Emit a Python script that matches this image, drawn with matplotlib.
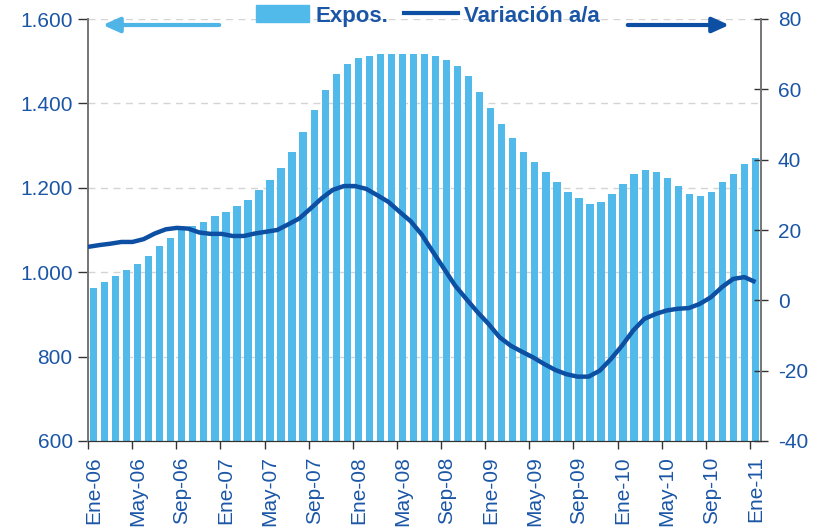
import numpy as np
import matplotlib.pyplot as plt
from matplotlib.patches import Patch
from matplotlib.lines import Line2D
from matplotlib.ticker import FuncFormatter

plt.rcParams['font.family'] = ['Liberation Sans', 'DejaVu Sans']
plt.rcParams['axes.unicode_minus'] = False

# monthly data, Ene-06 .. Ene-11
expos = [963, 977, 991, 1005, 1019, 1038, 1062, 1081, 1100, 1109, 1119, 1133,
         1143, 1157, 1171, 1195, 1218, 1247, 1285, 1332, 1384, 1432, 1470, 1493,
         1508, 1512, 1517, 1517, 1517, 1517, 1517, 1512, 1503, 1489, 1465, 1427,
         1389, 1351, 1318, 1285, 1261, 1237, 1214, 1190, 1176, 1162, 1166, 1185,
         1209, 1233, 1242, 1237, 1223, 1204, 1185, 1181, 1190, 1214, 1233, 1256,
         1271]
variacion = [15.2, 15.7, 16.1, 16.6, 16.6, 17.4, 19.0, 20.2, 20.6, 20.4, 19.3, 18.9,
             18.9, 18.3, 18.3, 19.0, 19.5, 20.0, 21.6, 23.3, 26.1, 29.0, 31.4, 32.5,
             32.5, 31.7, 29.9, 28.0, 25.2, 22.5, 18.7, 13.8, 9.0, 4.2, 0.4, -3.3,
             -6.7, -10.5, -12.9, -14.6, -16.2, -18.1, -19.8, -21.0, -21.7, -21.7, -20.0, -16.7,
             -12.9, -8.6, -5.3, -3.9, -2.9, -2.4, -2.2, -1.0, 0.9, 3.8, 6.1, 6.6,
             5.2]
x_labels = ['Ene-06', 'May-06', 'Sep-06', 'Ene-07', 'May-07', 'Sep-07', 'Ene-08',
            'May-08', 'Sep-08', 'Ene-09', 'May-09', 'Sep-09', 'Ene-10', 'May-10',
            'Sep-10', 'Ene-11']

bar_color = '#52BAEA'
line_color = '#0D4FA2'
text_color = '#1B56A6'
axis_color = '#777777'

fig = plt.figure(figsize=(8.24, 5.27), dpi=100)
ax = fig.add_axes([88 / 824, 86 / 527, 673 / 824, 422 / 527])
ax2 = ax.twinx()

n = len(expos)
x = np.arange(n)
ax.bar(x, expos, width=0.66, color=bar_color, zorder=2)
ax.set_ylim(600, 1600)
ax.set_xlim(-0.5, n - 0.5)
ax.set_yticks([600, 800, 1000, 1200, 1400, 1600])
ax.yaxis.set_major_formatter(FuncFormatter(lambda v, p: f'{int(v):,}'.replace(',', '.')))
ax.grid(axis='y', color='#D4D4D4', linestyle=(0, (5, 4)), linewidth=1, zorder=0)
ax.set_axisbelow(True)

# labels at month centres, ticks on category boundaries
ax.set_xticks(x[::4])
ax.set_xticklabels(x_labels, rotation=90, color=text_color, fontsize=15)
ax.set_xticks(x[::4] - 0.5, minor=True)
ax.tick_params(axis='x', which='major', length=0, pad=11)
ax.tick_params(axis='x', which='minor', length=6, width=1, color='#333333')
ax.tick_params(axis='y', length=7, width=1, color='#333333', labelcolor=text_color,
               labelsize=15, pad=4)

# line drawn from axis edge to last month centre
ax2.plot(np.linspace(-0.5, n - 1, n), variacion, color=line_color, lw=3.2,
         solid_capstyle='butt', zorder=3)
ax2.set_ylim(-40, 80)
ax2.set_yticks([-40, -20, 0, 20, 40, 60, 80])
ax2.tick_params(axis='y', direction='inout', length=10, width=1, color='#333333',
                labelcolor=text_color, labelsize=15, pad=7)

for a in (ax, ax2):
    a.spines['top'].set_visible(False)
    a.spines['left'].set_color(axis_color)
    a.spines['right'].set_color(axis_color)
    a.spines['bottom'].set_color('#333333')
    a.spines['left'].set_linewidth(1.3)
    a.spines['right'].set_linewidth(1.3)

handles = [Patch(color=bar_color), Line2D([], [], color=line_color, lw=3)]
leg = fig.legend(handles, ['Expos.', 'Variación a/a'], ncol=2, frameon=False,
                 loc='center', bbox_to_anchor=(428 / 824, 1 - 16 / 527),
                 handlelength=2.4, handleheight=0.8, handletextpad=0.3,
                 columnspacing=0.7, prop={'weight': 'bold', 'size': 16})
for t in leg.get_texts():
    t.set_color(text_color)

# axis arrows
ax.annotate('', xy=(100 / 824, 1 - 25 / 527), xytext=(222 / 824, 1 - 25 / 527),
            xycoords='figure fraction', textcoords='figure fraction',
            arrowprops=dict(arrowstyle='-|>,head_length=1.0,head_width=0.45',
                            color='#4FB4E6', lw=3))
ax.annotate('', xy=(732 / 824, 1 - 25 / 527), xytext=(625 / 824, 1 - 25 / 527),
            xycoords='figure fraction', textcoords='figure fraction',
            arrowprops=dict(arrowstyle='-|>,head_length=1.0,head_width=0.45',
                            color=line_color, lw=3))

fig.savefig('out.png', dpi=100)
